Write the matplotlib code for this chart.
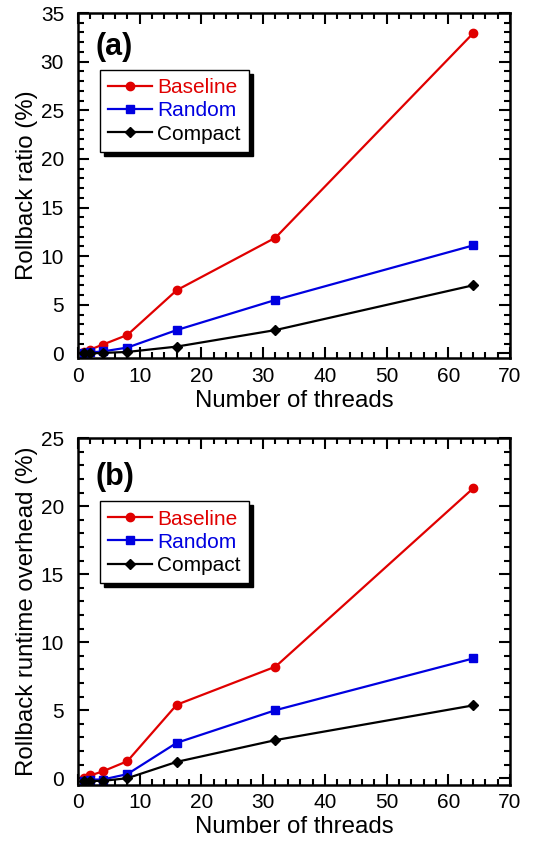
import matplotlib
matplotlib.use("Agg")
import matplotlib.pyplot as plt
from matplotlib.ticker import MultipleLocator

plt.rcParams["font.family"] = ["Liberation Sans", "DejaVu Sans"]

threads = [1, 2, 4, 8, 16, 32, 64]

# (a) rollback ratio (%)
ratio_baseline = [0.1, 0.4, 0.9, 1.9, 6.5, 11.9, 32.9]
ratio_random = [0.0, 0.1, 0.2, 0.6, 2.4, 5.5, 11.1]
ratio_compact = [0.0, 0.0, 0.05, 0.15, 0.7, 2.4, 7.0]

# (b) rollback runtime overhead (%)
over_baseline = [0.0, 0.2, 0.5, 1.25, 5.4, 8.2, 21.3]
over_random = [-0.2, -0.1, -0.1, 0.3, 2.6, 5.0, 8.8]
over_compact = [-0.2, -0.2, -0.2, 0.0, 1.2, 2.8, 5.35]

fig = plt.figure(figsize=(5.36, 8.41), dpi=100)
ax_a = fig.add_axes([0.1455, 0.574, 0.806, 0.4105])
ax_b = fig.add_axes([0.1455, 0.0666, 0.806, 0.4124])

panels = [
    (ax_a, "(a)", "Rollback ratio (%)", (-0.5, 35), 0.835, 0.945,
     ratio_baseline, ratio_random, ratio_compact),
    (ax_b, "(b)", "Rollback runtime overhead (%)", (-0.5, 25), 0.818, 0.93,
     over_baseline, over_random, over_compact),
]

for ax, tag, ylabel, ylim, leg_y, tag_y, base, rnd, cmp_ in panels:
    ax.plot(threads, base, color="#e00000", lw=1.6, marker="o", ms=6, label="Baseline")
    ax.plot(threads, rnd, color="#0000e0", lw=1.6, marker="s", ms=6, label="Random")
    ax.plot(threads, cmp_, color="black", lw=1.6, marker="D", ms=5.5, label="Compact")
    ax.set_xlim(0, 70)
    ax.set_ylim(*ylim)
    ax.xaxis.set_major_locator(MultipleLocator(10))
    ax.xaxis.set_minor_locator(MultipleLocator(2))
    ax.yaxis.set_major_locator(MultipleLocator(5))
    ax.yaxis.set_minor_locator(MultipleLocator(1))
    ax.tick_params(which="both", direction="in", top=True, right=True,
                   width=1.5, labelsize=15)
    ax.tick_params(which="major", length=8)
    ax.tick_params(axis="x", which="major", pad=6)
    ax.tick_params(axis="y", which="major", pad=10)
    ax.tick_params(which="minor", length=4.5)
    for s in ax.spines.values():
        s.set_linewidth(1.8)
    ax.set_xlabel("Number of threads", fontsize=17.3, labelpad=3)
    ax.set_ylabel(ylabel, fontsize=17.3, labelpad=2)
    ax.text(0.04, tag_y, tag, transform=ax.transAxes, fontsize=22,
            fontweight="bold", va="top", ha="left")
    leg = ax.legend(loc="upper left", bbox_to_anchor=(0.051, leg_y), fontsize=15,
                    frameon=True, fancybox=False,
                    shadow={"color": "black", "alpha": 1, "ox": 3, "oy": -3},
                    edgecolor="black", framealpha=1, handlelength=2.1,
                    handletextpad=0.25, borderpad=0.4, labelspacing=0.2,
                    borderaxespad=0)
    leg.get_frame().set_linewidth(1.0)
    for t, c in zip(leg.get_texts(), ["#e00000", "#0000e0", "black"]):
        t.set_color(c)

fig.savefig("out.png", dpi=100)
